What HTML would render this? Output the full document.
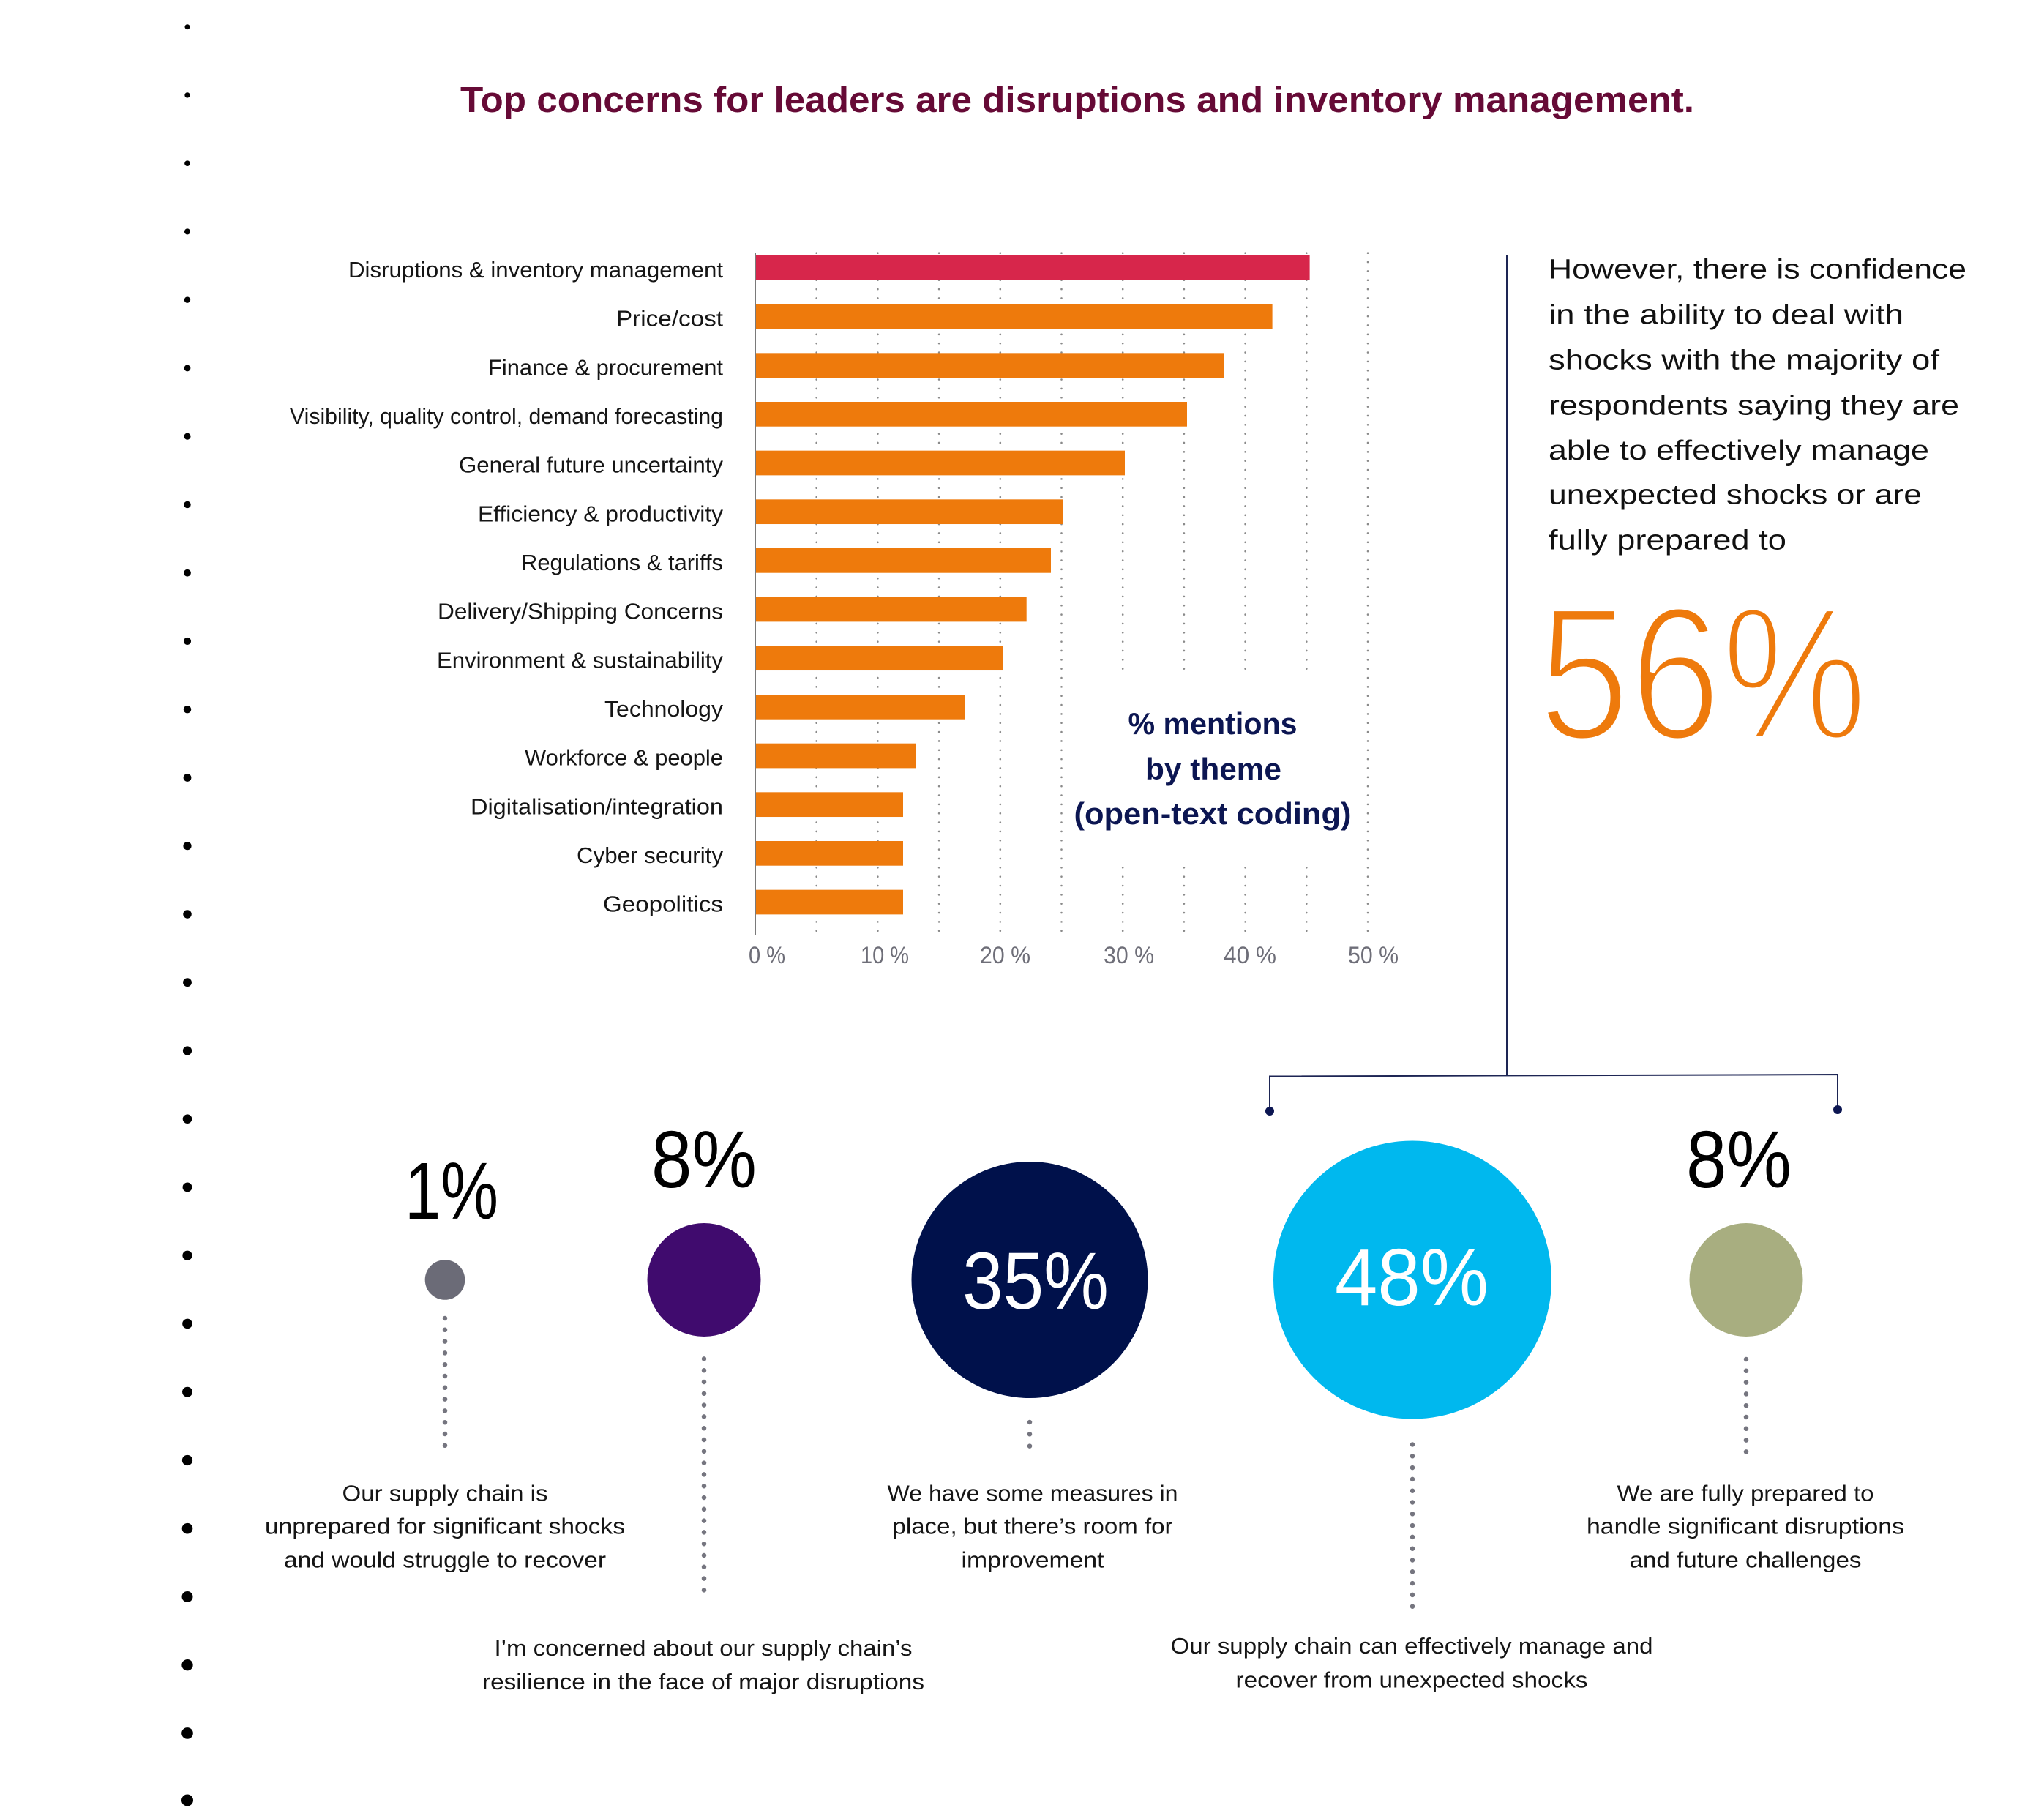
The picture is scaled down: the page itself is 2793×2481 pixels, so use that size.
<!DOCTYPE html>
<html><head><meta charset="utf-8"><style>
html,body{margin:0;padding:0;background:#fff;}
svg{display:block;}
text{font-family:"Liberation Sans",Arial,sans-serif;}
</style></head><body>
<svg width="2793" height="2481" viewBox="0 0 2793 2481" xmlns="http://www.w3.org/2000/svg">
<rect width="2793" height="2481" fill="#fff"/>
<!-- left dot column -->
<g fill="#000">
<circle cx="256" cy="36.7" r="3.5"/><circle cx="256" cy="129.95" r="3.67"/><circle cx="256" cy="223.2" r="3.85"/><circle cx="256" cy="316.45" r="4.02"/><circle cx="256" cy="409.7" r="4.19"/><circle cx="256" cy="502.95" r="4.37"/><circle cx="256" cy="596.2" r="4.54"/><circle cx="256" cy="689.45" r="4.71"/><circle cx="256" cy="782.7" r="4.88"/><circle cx="256" cy="875.95" r="5.06"/><circle cx="256" cy="969.2" r="5.23"/><circle cx="256" cy="1062.45" r="5.4"/><circle cx="256" cy="1155.7" r="5.58"/><circle cx="256" cy="1248.95" r="5.75"/><circle cx="256" cy="1342.2" r="5.92"/><circle cx="256" cy="1435.45" r="6.1"/><circle cx="256" cy="1528.7" r="6.27"/><circle cx="256" cy="1621.95" r="6.44"/><circle cx="256" cy="1715.2" r="6.62"/><circle cx="256" cy="1808.45" r="6.79"/><circle cx="256" cy="1901.7" r="6.96"/><circle cx="256" cy="1994.95" r="7.13"/><circle cx="256" cy="2088.2" r="7.31"/><circle cx="256" cy="2181.45" r="7.48"/><circle cx="256" cy="2274.7" r="7.65"/><circle cx="256" cy="2367.95" r="7.83"/><circle cx="256" cy="2459.5" r="8"/>
</g>
<!-- title -->
<text x="629" y="153" font-size="49" font-weight="bold" fill="#660a36" textLength="1686" lengthAdjust="spacingAndGlyphs">Top concerns for leaders are disruptions and inventory management.</text>

<!-- gridlines -->
<g stroke="#8a8a8a" stroke-width="2.6" stroke-linecap="round" stroke-dasharray="0 12.347">
<line x1="1115.7" y1="345.7" x2="1115.7" y2="1271.9"/>
<line x1="1199.4" y1="345.7" x2="1199.4" y2="1271.9"/>
<line x1="1283.1" y1="345.7" x2="1283.1" y2="1271.9"/>
<line x1="1366.8" y1="345.7" x2="1366.8" y2="1271.9"/>
<line x1="1450.5" y1="345.7" x2="1450.5" y2="1271.9"/>
<line x1="1534.2" y1="345.7" x2="1534.2" y2="1271.9"/>
<line x1="1617.9" y1="345.7" x2="1617.9" y2="1271.9"/>
<line x1="1701.6" y1="345.7" x2="1701.6" y2="1271.9"/>
<line x1="1785.3" y1="345.7" x2="1785.3" y2="1271.9"/>
<line x1="1869" y1="345.7" x2="1869" y2="1271.9"/>
</g>
<rect x="1470" y="919" width="385" height="262" fill="#fff"/>

<!-- bars -->
<rect x="1032" y="349" width="757.6" height="33.7" fill="#d7264b"/>
<g fill="#ee7a0c">
<rect x="1032" y="415.67" width="706.6" height="33.7"/>
<rect x="1032" y="482.33" width="640" height="33.7"/>
<rect x="1032" y="549" width="590" height="33.7"/>
<rect x="1032" y="615.67" width="505" height="33.7"/>
<rect x="1032" y="682.33" width="420.7" height="33.7"/>
<rect x="1032" y="749" width="404" height="33.7"/>
<rect x="1032" y="815.67" width="370.7" height="33.7"/>
<rect x="1032" y="882.33" width="338" height="33.7"/>
<rect x="1032" y="949" width="287" height="33.7"/>
<rect x="1032" y="1015.67" width="219.6" height="33.7"/>
<rect x="1032" y="1082.33" width="202" height="33.7"/>
<rect x="1032" y="1149" width="202" height="33.7"/>
<rect x="1032" y="1215.67" width="202" height="33.7"/>
</g>
<line x1="1032" y1="345" x2="1032" y2="1277" stroke="#7a7a7a" stroke-width="2"/>

<!-- category labels -->
<g font-size="31" fill="#151515" text-anchor="end">
<text x="988" y="379" textLength="512" lengthAdjust="spacingAndGlyphs">Disruptions &amp; inventory management</text>
<text x="988" y="445.7" textLength="146" lengthAdjust="spacingAndGlyphs">Price/cost</text>
<text x="988" y="512.3" textLength="321" lengthAdjust="spacingAndGlyphs">Finance &amp; procurement</text>
<text x="988" y="579" textLength="592" lengthAdjust="spacingAndGlyphs">Visibility, quality control, demand forecasting</text>
<text x="988" y="645.7" textLength="361" lengthAdjust="spacingAndGlyphs">General future uncertainty</text>
<text x="988" y="712.3" textLength="335" lengthAdjust="spacingAndGlyphs">Efficiency &amp; productivity</text>
<text x="988" y="779" textLength="276" lengthAdjust="spacingAndGlyphs">Regulations &amp; tariffs</text>
<text x="988" y="845.7" textLength="390" lengthAdjust="spacingAndGlyphs">Delivery/Shipping Concerns</text>
<text x="988" y="912.3" textLength="391" lengthAdjust="spacingAndGlyphs">Environment &amp; sustainability</text>
<text x="988" y="979" textLength="162" lengthAdjust="spacingAndGlyphs">Technology</text>
<text x="988" y="1045.7" textLength="271" lengthAdjust="spacingAndGlyphs">Workforce &amp; people</text>
<text x="988" y="1112.3" textLength="345" lengthAdjust="spacingAndGlyphs">Digitalisation/integration</text>
<text x="988" y="1179" textLength="200" lengthAdjust="spacingAndGlyphs">Cyber security</text>
<text x="988" y="1245.7" textLength="164" lengthAdjust="spacingAndGlyphs">Geopolitics</text>
</g>

<!-- tick labels -->
<g font-size="32" fill="#6e6e78">
<text x="1023" y="1316" textLength="50" lengthAdjust="spacingAndGlyphs">0 %</text>
<text x="1176" y="1316" textLength="66" lengthAdjust="spacingAndGlyphs">10 %</text>
<text x="1339" y="1316" textLength="69" lengthAdjust="spacingAndGlyphs">20 %</text>
<text x="1508" y="1316" textLength="69" lengthAdjust="spacingAndGlyphs">30 %</text>
<text x="1672" y="1316" textLength="72" lengthAdjust="spacingAndGlyphs">40 %</text>
<text x="1842" y="1316" textLength="69" lengthAdjust="spacingAndGlyphs">50 %</text>
</g>

<!-- chart annotation -->
<g font-size="42" font-weight="bold" fill="#0c1652" text-anchor="middle">
<text x="1657" y="1003" textLength="231" lengthAdjust="spacingAndGlyphs">% mentions</text>
<text x="1658" y="1065" textLength="186" lengthAdjust="spacingAndGlyphs">by theme</text>
<text x="1657" y="1126" textLength="379" lengthAdjust="spacingAndGlyphs">(open-text coding)</text>
</g>

<!-- right side text -->
<g font-size="38" fill="#111">
<text x="2116" y="380.5" textLength="571" lengthAdjust="spacingAndGlyphs">However, there is confidence</text>
<text x="2116" y="442.6" textLength="485" lengthAdjust="spacingAndGlyphs">in the ability to deal with</text>
<text x="2116" y="504.6" textLength="534" lengthAdjust="spacingAndGlyphs">shocks with the majority of</text>
<text x="2116" y="566.6" textLength="561" lengthAdjust="spacingAndGlyphs">respondents saying they are</text>
<text x="2116" y="627.8" textLength="520" lengthAdjust="spacingAndGlyphs">able to effectively manage</text>
<text x="2116" y="688.4" textLength="510" lengthAdjust="spacingAndGlyphs">unexpected shocks or are</text>
<text x="2116" y="750.4" textLength="325" lengthAdjust="spacingAndGlyphs">fully prepared to</text>
</g>
<text x="2102" y="1010" font-size="260" fill="#ee7a0c" stroke="#fff" stroke-width="8" textLength="450" lengthAdjust="spacingAndGlyphs">56%</text>

<!-- bracket -->
<g stroke="#1d2554" stroke-width="2" fill="none">
<line x1="2059" y1="348" x2="2059" y2="1469"/>
<polyline points="1735,1518 1735,1470.5 2511,1468 2511,1516"/>
</g>
<circle cx="1735" cy="1518" r="6" fill="#0c1652"/>
<circle cx="2511" cy="1516" r="6" fill="#0c1652"/>

<!-- circles -->
<circle cx="608" cy="1748.5" r="27.3" fill="#6b6b77"/>
<circle cx="962" cy="1748.5" r="77.5" fill="#400b6e"/>
<circle cx="1407" cy="1748.5" r="161.5" fill="#00114b"/>
<circle cx="1930" cy="1748.5" r="190" fill="#00b8ee"/>
<circle cx="2386" cy="1748.5" r="77.5" fill="#a8ae80"/>

<!-- percent labels -->
<g font-size="110" fill="#000">
<text x="553" y="1665" textLength="128" lengthAdjust="spacingAndGlyphs">1%</text>
<text x="890" y="1622" textLength="144" lengthAdjust="spacingAndGlyphs">8%</text>
<text x="2304" y="1622" textLength="144" lengthAdjust="spacingAndGlyphs">8%</text>
</g>
<g font-size="110" fill="#fff">
<text x="1315" y="1788" textLength="200" lengthAdjust="spacingAndGlyphs">35%</text>
<text x="1824" y="1783" textLength="210" lengthAdjust="spacingAndGlyphs">48%</text>
</g>

<!-- dotted connectors -->
<g stroke="#75757f" stroke-width="6.5" stroke-linecap="round" stroke-dasharray="0 15.8">
<line x1="608" y1="1801" x2="608" y2="1975"/>
<line x1="962" y1="1856.4" x2="962" y2="2188"/>
<line x1="1407" y1="1943" x2="1407" y2="1976" stroke-dasharray="0 16.3"/>
<line x1="1930" y1="1973.5" x2="1930" y2="2195"/>
<line x1="2386" y1="1857" x2="2386" y2="1984"/>
</g>

<!-- descriptions -->
<g font-size="31" fill="#151515" text-anchor="middle">
<text x="608" y="2050.5" textLength="281" lengthAdjust="spacingAndGlyphs">Our supply chain is</text>
<text x="608" y="2095.6" textLength="492" lengthAdjust="spacingAndGlyphs">unprepared for significant shocks</text>
<text x="608" y="2141.7" textLength="440" lengthAdjust="spacingAndGlyphs">and would struggle to recover</text>

<text x="1411" y="2050.5" textLength="397" lengthAdjust="spacingAndGlyphs">We have some measures in</text>
<text x="1411" y="2095.6" textLength="383" lengthAdjust="spacingAndGlyphs">place, but there’s room for</text>
<text x="1411" y="2141.7" textLength="195" lengthAdjust="spacingAndGlyphs">improvement</text>

<text x="2385" y="2050.5" textLength="351" lengthAdjust="spacingAndGlyphs">We are fully prepared to</text>
<text x="2385" y="2095.6" textLength="434" lengthAdjust="spacingAndGlyphs">handle significant disruptions</text>
<text x="2385" y="2141.7" textLength="317" lengthAdjust="spacingAndGlyphs">and future challenges</text>

<text x="961" y="2262" textLength="571" lengthAdjust="spacingAndGlyphs">I’m concerned about our supply chain’s</text>
<text x="961" y="2308" textLength="604" lengthAdjust="spacingAndGlyphs">resilience in the face of major disruptions</text>

<text x="1929" y="2259" textLength="659" lengthAdjust="spacingAndGlyphs">Our supply chain can effectively manage and</text>
<text x="1929" y="2305.5" textLength="481" lengthAdjust="spacingAndGlyphs">recover from unexpected shocks</text>
</g>
</svg>
</body></html>
